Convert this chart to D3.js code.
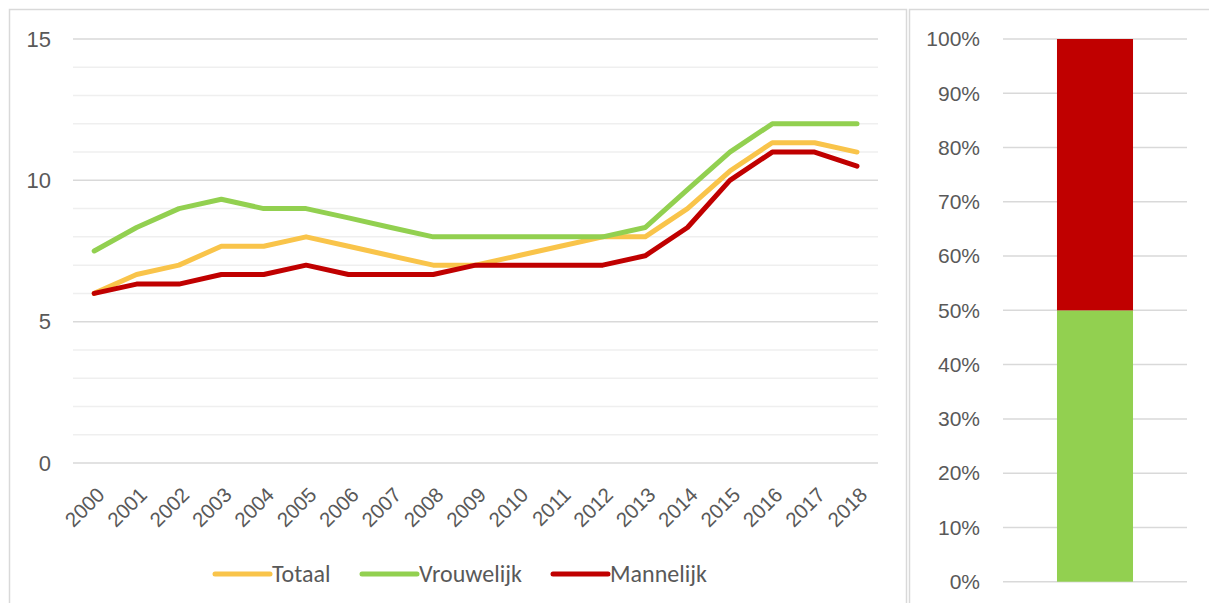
<!DOCTYPE html>
<html>
<head>
<meta charset="utf-8">
<script src="https://cdn.jsdelivr.net/npm/d3@7"></script>
<style>
  body { margin: 0; background: #fff; }
  svg { display: block; font-family: Carlito, Lato, sans-serif; }
</style>
</head>
<body>
<svg id="chart" width="1209" height="603"></svg>
<script>
"use strict";

// Chart data.
var years = ["2000", "2001", "2002", "2003", "2004", "2005", "2006", "2007", "2008", "2009",
             "2010", "2011", "2012", "2013", "2014", "2015", "2016", "2017", "2018"];
var totaal     = [6, 6.67, 7, 7.67, 7.67, 8, 7.67, 7.33, 7, 7, 7.33, 7.67, 8, 8, 9, 10.33, 11.33, 11.33, 11];
var vrouwelijk = [7.5, 8.33, 9, 9.33, 9, 9, 8.67, 8.33, 8, 8, 8, 8, 8, 8.33, 9.67, 11, 12, 12, 12];
var mannelijk  = [6, 6.33, 6.33, 6.67, 6.67, 7, 6.67, 6.67, 6.67, 7, 7, 7, 7, 7.33, 8.33, 10, 11, 11, 10.5];
var yTicks = [0, 5, 10, 15];

// Right panel: share of women / men.
var shareSeries = ["Vrouwelijk", "Mannelijk"];
var shareValues = [0.5, 0.5];
var shareTicks = [0, 0.1, 0.2, 0.3, 0.4, 0.5, 0.6, 0.7, 0.8, 0.9, 1];

var colors = { Totaal: "#F9C44A", Vrouwelijk: "#92D050", Mannelijk: "#C00000" };
var textColor = "#595959";

var svg = d3.select("#chart");

// Panel borders
svg.append("rect").attr("x", 9.5).attr("y", 9.5).attr("width", 897).attr("height", 620)
    .attr("fill", "none").attr("stroke", "#d9d9d9").attr("stroke-width", 1.5);
svg.append("rect").attr("x", 909.5).attr("y", 9.5).attr("width", 320).attr("height", 620)
    .attr("fill", "none").attr("stroke", "#d9d9d9").attr("stroke-width", 1.5);

// ---- Left panel: line chart ----
var x = d3.scalePoint().domain(years).range([94.2, 857]);
var y = d3.scaleLinear().domain([0, 15]).range([463, 39]);

var left = svg.append("g");

// minor gridlines every 1
left.append("g").selectAll("line")
    .data(d3.range(0, 16).filter(function(d) { return d % 5 !== 0; }))
    .join("line")
    .attr("x1", 73).attr("x2", 878)
    .attr("y1", function(d) { return y(d); }).attr("y2", function(d) { return y(d); })
    .attr("stroke", "#efefef").attr("stroke-width", 1.5);

// major gridlines
left.append("g").selectAll("line")
    .data(yTicks)
    .join("line")
    .attr("x1", 73).attr("x2", 878)
    .attr("y1", function(d) { return y(d); }).attr("y2", function(d) { return y(d); })
    .attr("stroke", "#d9d9d9").attr("stroke-width", 1.5);

var yAxis = left.append("g").attr("transform", "translate(73,0)")
    .call(d3.axisLeft(y).tickValues(yTicks).tickSize(0).tickPadding(22));
yAxis.select(".domain").remove();
yAxis.selectAll("text").attr("fill", textColor).style("font-size", "22px");

var xAxis = left.append("g").attr("transform", "translate(0,463)")
    .call(d3.axisBottom(x).tickSize(0));
xAxis.select(".domain").remove();
xAxis.selectAll("text")
    .attr("fill", textColor).style("font-size", "20.5px")
    .attr("text-anchor", "end")
    .attr("dy", 0)
    .attr("transform", "translate(9,31) rotate(-45)");

var line = d3.line()
    .x(function(d, i) { return x(years[i]); })
    .y(function(d) { return y(d); });

var lineSeries = [
    { name: "Totaal", values: totaal },
    { name: "Vrouwelijk", values: vrouwelijk },
    { name: "Mannelijk", values: mannelijk }
];

left.append("g").selectAll("path")
    .data(lineSeries)
    .join("path")
    .attr("d", function(d) { return line(d.values); })
    .attr("fill", "none")
    .attr("stroke", function(d) { return colors[d.name]; })
    .attr("stroke-width", 5)
    .attr("stroke-linejoin", "round")
    .attr("stroke-linecap", "round");

// legend
var legendX = [215, 362, 553];
var legend = left.append("g").selectAll("g")
    .data(lineSeries)
    .join("g")
    .attr("transform", function(d, i) { return "translate(" + legendX[i] + ",574)"; });
legend.append("line")
    .attr("x1", 0).attr("x2", 55)
    .attr("stroke", function(d) { return colors[d.name]; })
    .attr("stroke-width", 5).attr("stroke-linecap", "round");
legend.append("text")
    .attr("x", 57).attr("dy", "0.35em")
    .attr("fill", textColor).style("font-size", "24px")
    .text(function(d) { return d.name; });

// ---- Right panel: 100% stacked bar ----
var yr = d3.scaleLinear().domain([0, 1]).range([581.7, 39]);
var right = svg.append("g");

right.append("g").selectAll("line")
    .data(shareTicks)
    .join("line")
    .attr("x1", 1003).attr("x2", 1187)
    .attr("y1", function(d) { return yr(d); }).attr("y2", function(d) { return yr(d); })
    .attr("stroke", "#d9d9d9").attr("stroke-width", 1.5);

var yrAxis = right.append("g").attr("transform", "translate(1003,0)")
    .call(d3.axisLeft(yr).tickValues(shareTicks).tickFormat(d3.format(".0%")).tickSize(0).tickPadding(23));
yrAxis.select(".domain").remove();
yrAxis.selectAll("text").attr("fill", textColor).style("font-size", "21px");

var stack = [];
var acc = 0;
shareSeries.forEach(function(name, i) {
    stack.push({ name: name, y0: acc, y1: acc + shareValues[i] });
    acc += shareValues[i];
});

// single category, band sized so the bar is ~76px wide and centred
var xb = d3.scaleBand().domain(["all"]).range([1003, 1187]).paddingInner(0).paddingOuter(0.71);

right.append("g").selectAll("rect")
    .data(stack)
    .join("rect")
    .attr("x", xb("all"))
    .attr("width", xb.bandwidth())
    .attr("y", function(d) { return yr(d.y1); })
    .attr("height", function(d) { return yr(d.y0) - yr(d.y1); })
    .attr("fill", function(d) { return colors[d.name]; });
</script>
</body>
</html>
